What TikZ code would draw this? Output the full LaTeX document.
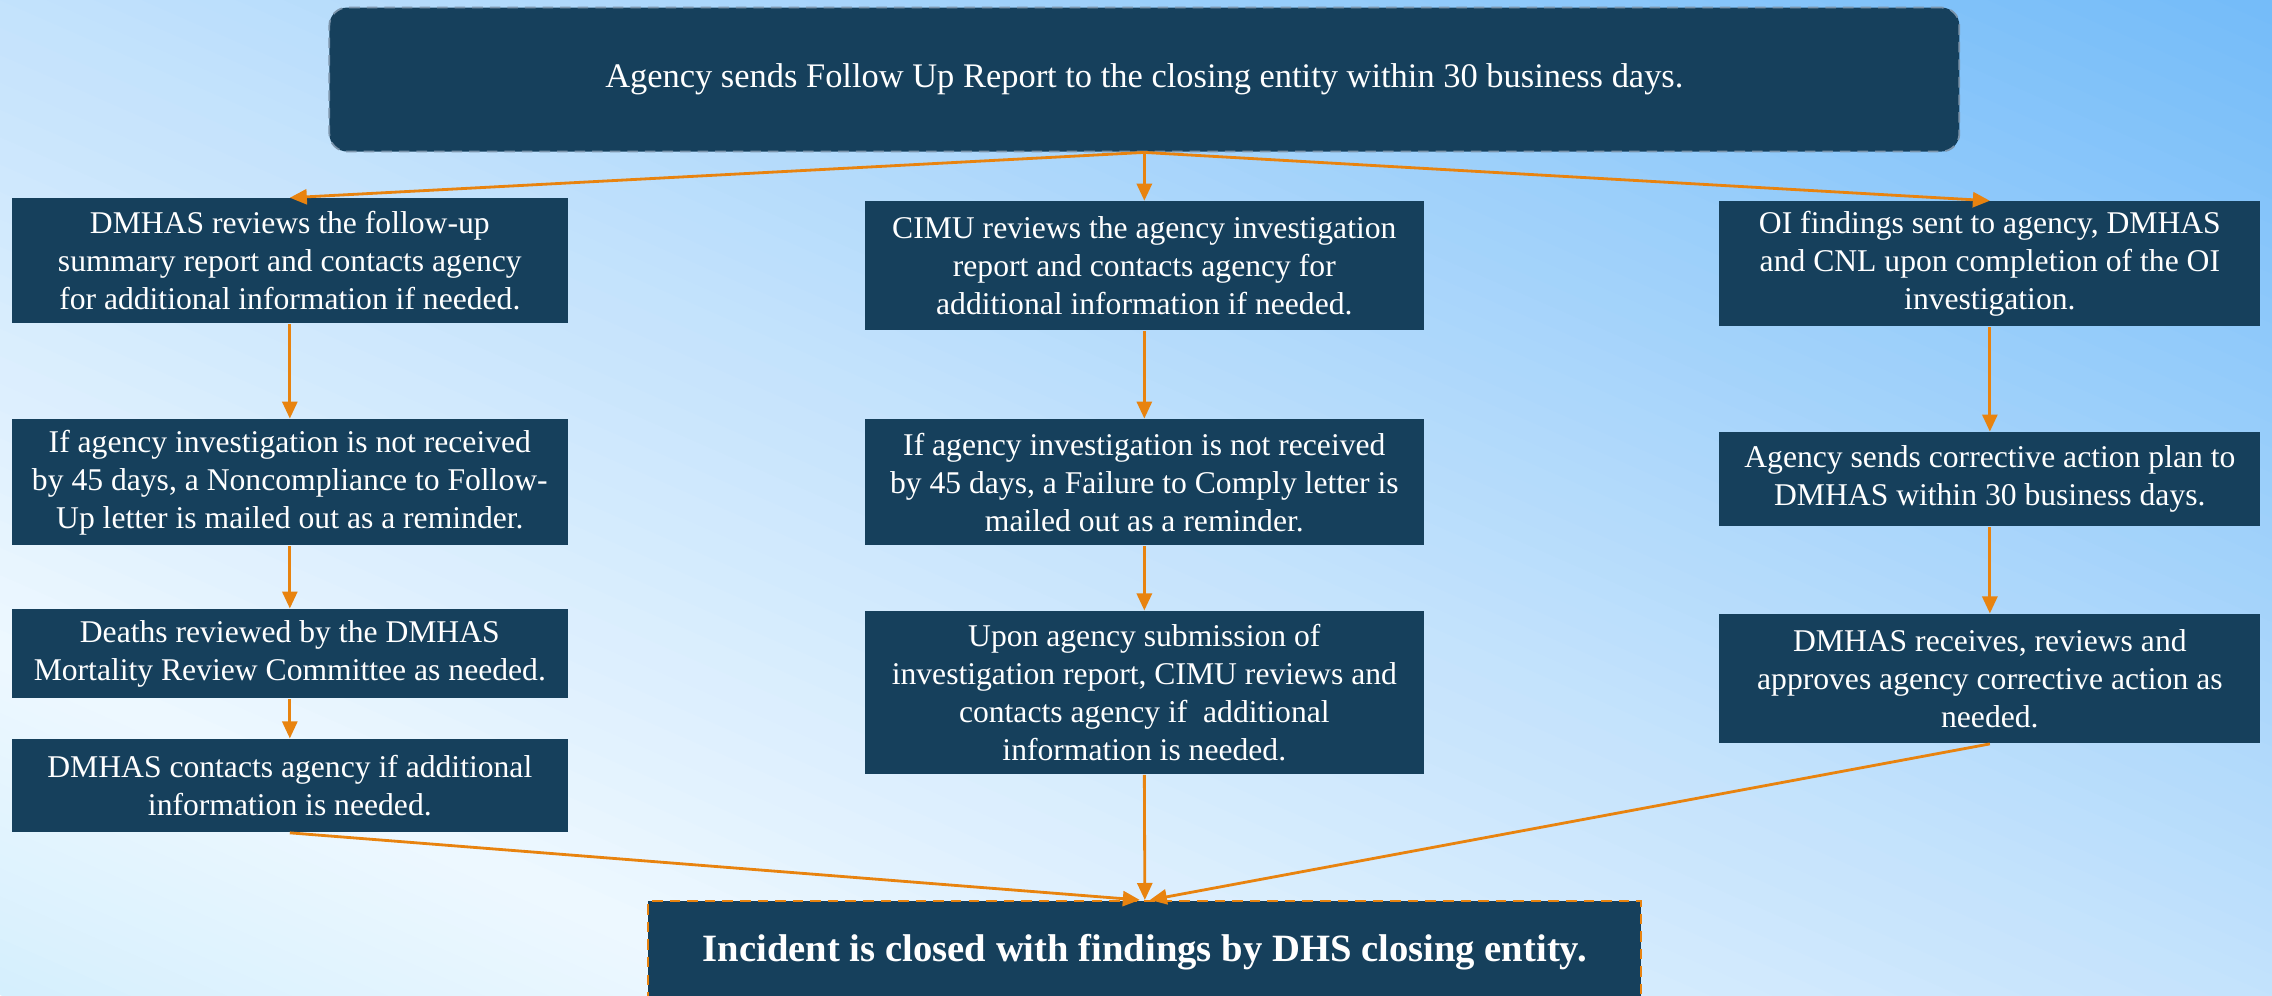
\documentclass[tikz,border=0pt]{standalone}
\usepackage{fontspec}
\setmainfont{Liberation Serif}
\usetikzlibrary{arrows.meta}

\definecolor{boxblue}{HTML}{16405C}
\definecolor{flowarrow}{HTML}{E8830F}
\definecolor{topedge}{HTML}{7C95AC}
\definecolor{skyA}{HTML}{D5EFFD}
\definecolor{skyB}{HTML}{EEF8FF}
\definecolor{skyC}{HTML}{C3E2FC}
\definecolor{skyD}{HTML}{9CCFFA}
\definecolor{skyE}{HTML}{6CB8F9}

% one stretch of the sky gradient, cut into thin bands
\newcommand{\skyband}[4]{%
  \foreach \k in {0,...,23}{
    \pgfmathsetmacro{\pa}{(#1+(#2-#1)*\k/24)*18.23}
    \pgfmathsetmacro{\pb}{(#1+(#2-#1)*(\k+1)/24)*18.23+0.02}
    \pgfmathtruncatemacro{\mixp}{100*(\k+0.5)/24}
    \fill[#4!\mixp!#3] (\pa,-30) rectangle (\pb,30);
  }}

\begin{document}
\begin{tikzpicture}[x=0.01cm,y=-0.01cm,
    box/.style={fill=boxblue,text=white,align=center,inner sep=0pt,
      font=\fontsize{9}{10.8}\selectfont},
    leftcol/.style={box,minimum width=5.56cm},
    midcol/.style={box,minimum width=5.59cm},
    rightcol/.style={box,minimum width=5.41cm},
    flow/.style={-{Triangle[length=0.17cm,width=0.15cm]},draw=flowarrow,line width=0.8pt}]

    % background
    \begin{scope}[shift={(0,995)},x=1cm,y=1cm]
      \clip (0,0) rectangle (22.72,9.95);
      \begin{scope}[rotate=66.35]
        \skyband{0}{0.17}{skyA}{skyB}
        \skyband{0.17}{0.5}{skyB}{skyC}
        \skyband{0.5}{0.75}{skyC}{skyD}
        \skyband{0.75}{1.05}{skyD}{skyE}
      \end{scope}
    \end{scope}
    \useasboundingbox (0,0) rectangle (2272,995);

    \node[box,rounded corners=0.18cm,draw=topedge,densely dashed,line width=0.5pt,
      minimum width=16.3cm,minimum height=1.44cm,font=\fontsize{9.8}{12}\selectfont] (report) at (1145,79)
      {Agency sends Follow Up Report to the closing entity within 30 business days.};

    % left column
    \node[leftcol,minimum height=1.25cm] (dmhasrev) at (290,260.5)
      {DMHAS reviews the follow-up\\summary report and contacts agency\\for additional information if needed.};
    \node[leftcol,minimum height=1.26cm] (noncomply) at (290,482)
      {If agency investigation is not received\\by 45 days, a Noncompliance to Follow-\\Up letter is mailed out as a reminder.};
    \node[leftcol,minimum height=0.89cm] (mortality) at (290,653.5)
      {Deaths reviewed by the DMHAS\\Mortality Review Committee as needed.};
    \node[leftcol,minimum height=0.93cm] (dmhascontact) at (290,785.5)
      {DMHAS contacts agency if additional\\information is needed.};

    % middle column
    \node[midcol,minimum height=1.29cm] (cimurev) at (1145,265.5)
      {CIMU reviews the agency investigation\\report and contacts agency for\\additional information if needed.};
    \node[midcol,minimum height=1.26cm] (failcomply) at (1145,482)
      {If agency investigation is not received\\by 45 days, a Failure to Comply letter is\\mailed out as a reminder.};
    \node[midcol,minimum height=1.63cm] (cimusubmit) at (1145,692.5)
      {Upon agency submission of\\investigation report, CIMU reviews and\\contacts agency if~ additional\\information is needed.};

    % right column
    \node[rightcol,minimum height=1.25cm] (oifind) at (1991,263.5)
      {OI findings sent to agency, DMHAS\\and CNL upon completion of the OI\\investigation.};
    \node[rightcol,minimum height=0.94cm] (capsend) at (1991,479)
      {Agency sends corrective action plan to\\DMHAS within 30 business days.};
    \node[rightcol,minimum height=1.29cm] (capreview) at (1991,678.5)
      {DMHAS receives, reviews and\\approves agency corrective action as\\needed.};

    \node[box,draw=flowarrow,densely dashed,line width=0.6pt,minimum width=9.93cm,minimum height=1.02cm,
      font=\fontsize{11}{13}\selectfont\bfseries] (closed) at (1145.5,952)
      {Incident is closed with findings by DHS closing entity.};

    \draw[flow] (report.south) -- (dmhasrev.north);
    \draw[flow] (report.south) -- (cimurev.north);
    \draw[flow] (report.south) -- (oifind.north);
    \draw[flow] (dmhasrev) -- (noncomply);
    \draw[flow] (noncomply) -- (mortality);
    \draw[flow] (mortality) -- (dmhascontact);
    \draw[flow] (cimurev) -- (failcomply);
    \draw[flow] (failcomply) -- (cimusubmit);
    \draw[flow] (oifind) -- (capsend);
    \draw[flow] (capsend) -- (capreview);
    \draw[flow] (dmhascontact.south) -- ([xshift=-0.05cm]closed.north);
    \draw[flow] (cimusubmit.south) -- (closed.north);
    \draw[flow] (capreview.south) -- ([xshift=0.05cm]closed.north);
\end{tikzpicture}
\end{document}
